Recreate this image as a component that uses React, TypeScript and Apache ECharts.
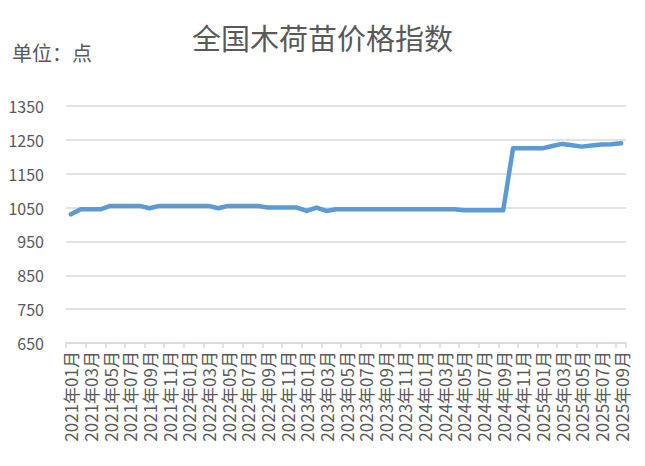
import { useEffect, useRef } from 'react';
import * as echarts from 'echarts';

// monthly index values
const values2021 = [1030, 1045, 1045, 1045, 1055, 1055, 1055, 1055, 1048, 1055, 1055, 1055];
const values2022 = [1055, 1055, 1055, 1048, 1055, 1055, 1055, 1055, 1050, 1050, 1050, 1050];
const values2023 = [1040, 1050, 1040, 1045, 1045, 1045, 1045, 1045, 1045, 1045, 1045, 1045];
const values2024 = [1045, 1045, 1045, 1045, 1042, 1042, 1042, 1042, 1042, 1225, 1225, 1225];
const values2025 = [1225, 1232, 1238, 1234, 1230, 1233, 1236, 1237, 1240];

const years = [2021, 2022, 2023, 2024, 2025];
const yearValues = [values2021, values2022, values2023, values2024, values2025];

const yMin = 650;
const yMax = 1350;
const yStep = 100;

const titleText = '全国木荷苗价格指数';
const unitText = '单位：点';

const months: string[] = [];
const values: number[] = [];
yearValues.forEach((arr, yi) => {
  arr.forEach((v, mi) => {
    months.push(`${years[yi]}年${String(mi + 1).padStart(2, '0')}月`);
    values.push(v);
  });
});

const textColor = '#595959';
const gridColor = '#d9d9d9';
const lineColor = '#5b9bd5';
const font = '"Noto Sans CJK SC", "Noto Sans", sans-serif';

const App = () => {
  const chartRef = useRef<HTMLDivElement>(null);

  useEffect(() => {
    if (!chartRef.current) return;
    const chart = echarts.init(chartRef.current, null, { renderer: 'svg' });

    chart.setOption({
      animation: false,
      backgroundColor: '#ffffff',
      textStyle: { fontFamily: font },
      title: {
        text: titleText,
        left: 'center',
        top: 17,
        textStyle: {
          color: textColor,
          fontSize: 29,
          fontWeight: 'normal',
          fontFamily: font,
        },
      },
      graphic: [
        {
          type: 'text',
          left: 12,
          top: 42,
          style: {
            text: unitText,
            fill: textColor,
            fontSize: 20,
            fontFamily: font,
          },
        },
      ],
      grid: {
        left: 66,
        right: 19,
        top: 106,
        bottom: 123,
        containLabel: false,
      },
      xAxis: {
        type: 'category',
        data: months,
        boundaryGap: true,
        axisLine: { show: true, lineStyle: { color: gridColor, width: 1.5 } },
        axisTick: {
          show: true,
          interval: 1,
          length: 5,
          lineStyle: { color: gridColor, width: 1.5 },
        },
        axisLabel: {
          interval: 1,
          rotate: 90,
          margin: 8,
          color: textColor,
          fontSize: 17,
          fontFamily: font,
        },
        splitLine: { show: false },
      },
      yAxis: {
        type: 'value',
        min: yMin,
        max: yMax,
        interval: yStep,
        axisLine: { show: false },
        axisTick: { show: false },
        axisLabel: {
          margin: 22,
          color: textColor,
          fontSize: 16,
          fontFamily: font,
          formatter: (v: number) => String(v),
        },
        splitLine: { show: true, lineStyle: { color: gridColor, width: 1.5 } },
      },
      series: [
        {
          name: titleText,
          type: 'line',
          data: values,
          showSymbol: false,
          symbol: 'none',
          lineStyle: { color: lineColor, width: 4.5, cap: 'round', join: 'round' },
          itemStyle: { color: lineColor },
        },
      ],
    });

    return () => {
      chart.dispose();
    };
  }, []);

  return (
    <div
      ref={chartRef}
      style={{ position: 'fixed', left: 0, top: 0, width: '645px', height: '466px' }}
    />
  );
};

export default App;
